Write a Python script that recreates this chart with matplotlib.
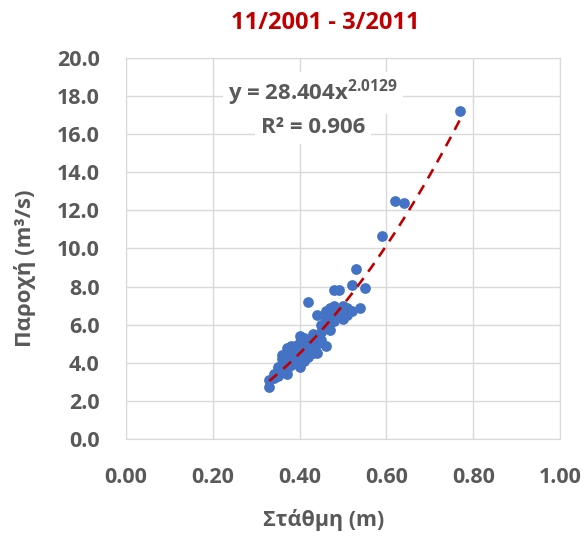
import matplotlib
matplotlib.use("Agg")
import matplotlib.pyplot as plt
import numpy as np

plt.rcParams["font.family"] = ["Open Sans", "DejaVu Sans"]
plt.rcParams["mathtext.fontset"] = "custom"
plt.rcParams["mathtext.rm"] = "Open Sans"
plt.rcParams["mathtext.bf"] = "Open Sans:bold"

GRAY = "#595959"
GRID = "#d9d9d9"
BLUE = "#4472c4"
RED = "#c00000"

# Στάθμη (m) / Παροχή (m3/s)
stage = [0.33, 0.33, 0.34, 0.34, 0.35, 0.35, 0.35, 0.36, 0.36, 0.36, 0.36,
         0.37, 0.37, 0.37, 0.37, 0.37, 0.38, 0.38, 0.38, 0.38, 0.38,
         0.39, 0.39, 0.39, 0.39, 0.40, 0.40, 0.40, 0.40, 0.40, 0.40,
         0.41, 0.41, 0.41, 0.41, 0.41, 0.42, 0.42, 0.42, 0.42, 0.42,
         0.43, 0.43, 0.43, 0.43, 0.44, 0.44, 0.44, 0.44, 0.45, 0.45, 0.45,
         0.46, 0.46, 0.46, 0.46, 0.47, 0.47, 0.47, 0.47, 0.48, 0.48, 0.48, 0.48,
         0.49, 0.49, 0.49, 0.50, 0.50, 0.50, 0.51, 0.51, 0.52, 0.52,
         0.53, 0.54, 0.55, 0.59, 0.62, 0.64, 0.77]
flow = [2.75, 3.1, 3.2, 3.4, 3.3, 3.6, 3.8, 3.5, 3.9, 4.2, 4.4,
        3.4, 3.7, 4.0, 4.5, 4.8, 3.9, 4.1, 4.4, 4.7, 4.9,
        4.0, 4.3, 4.6, 4.9, 3.8, 4.2, 4.5, 4.8, 5.1, 5.4,
        4.1, 4.4, 4.7, 5.0, 5.3, 4.3, 4.6, 4.9, 5.2, 7.2,
        4.5, 4.8, 5.1, 5.5, 4.5, 5.0, 5.3, 6.5, 5.2, 5.6, 6.0,
        4.9, 5.8, 6.3, 6.7, 5.7, 6.1, 6.5, 6.9, 6.2, 6.6, 7.0, 7.8,
        6.4, 6.8, 7.8, 6.3, 6.6, 7.0, 6.5, 6.9, 6.7, 8.1,
        8.9, 6.85, 7.9, 10.65, 12.5, 12.4, 17.2]

coef_a, coef_b = 28.404, 2.0129
r2 = 0.906

x_ticks = [0.0, 0.2, 0.4, 0.6, 0.8, 1.0]
y_ticks = [0, 2, 4, 6, 8, 10, 12, 14, 16, 18, 20]

fig = plt.figure(figsize=(5.88, 5.36), dpi=100)
ax = fig.add_axes([0.2143, 0.181, 0.7381, 0.7108])

ax.scatter(stage, flow, s=60, color=BLUE, zorder=3, linewidths=0)

# power trendline y = a x^b
xs = np.linspace(min(stage), max(stage), 100)
ax.plot(xs, coef_a * xs ** coef_b, color=RED, lw=1.9, ls=(0, (4, 3)), zorder=4)

ax.set_xlim(0, 1)
ax.set_ylim(0, 20)
ax.set_xticks(x_ticks)
ax.set_yticks(y_ticks)
ax.set_xticklabels([f"{v:.2f}" for v in x_ticks])
ax.set_yticklabels([f"{v:.1f}" for v in y_ticks])
ax.tick_params(length=0, labelsize=15.5, labelcolor=GRAY)
ax.tick_params(axis="y", pad=19)
ax.tick_params(axis="x", pad=20)
for lab in ax.get_xticklabels() + ax.get_yticklabels():
    lab.set_fontweight("bold")
ax.grid(True, color=GRID, lw=1)
ax.set_axisbelow(True)
for sp in ax.spines.values():
    sp.set_color(GRID)

ax.set_xlabel("Στάθμη (m)", fontsize=15.5, fontweight="bold", color=GRAY)
ax.xaxis.set_label_coords(0.456, -0.185)
ax.set_ylabel("Παροχή (m³/s)", fontsize=16, fontweight="bold", color=GRAY)
ax.yaxis.set_label_coords(-0.207, 0.449)

fig.text(0.553, 0.957, "11/2001 - 3/2011", ha="center", va="center",
         fontsize=17, fontweight="bold", color=RED)

ax.text(0.431, 18.16, f"y = {coef_a}x$^{{\\mathbf{{{coef_b}}}}}$", ha="center", va="center",
        fontsize=16, fontweight="bold", color=GRAY, zorder=5,
        bbox=dict(facecolor="white", edgecolor="none", pad=4))
ax.text(0.431, 16.33, f"R² = {r2}", ha="center", va="center",
        fontsize=16, fontweight="bold", color=GRAY, zorder=5,
        bbox=dict(facecolor="white", edgecolor="none", pad=4))

fig.savefig("out.png", dpi=100)
